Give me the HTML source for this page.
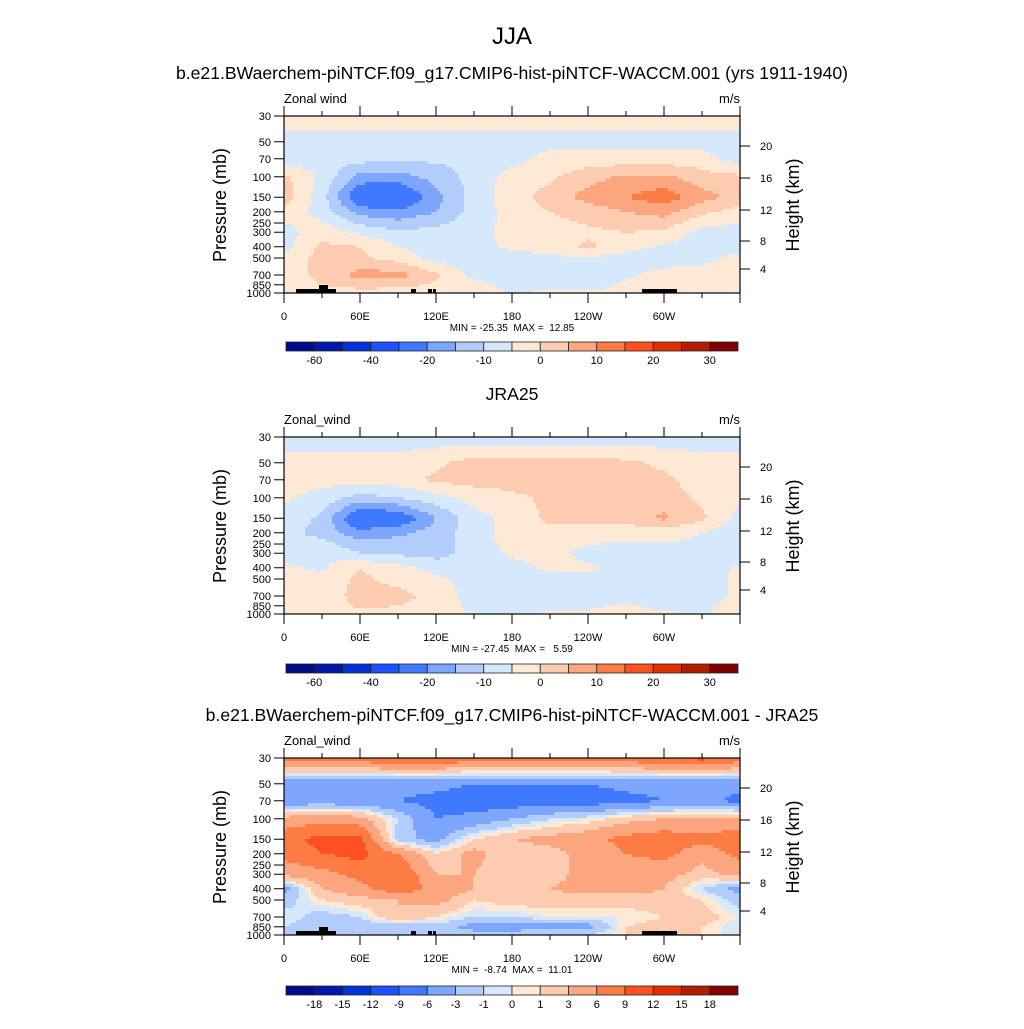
<!DOCTYPE html>
<html><head><meta charset="utf-8"><style>
body{margin:0;background:#fff;}
svg text{font-family:"Liberation Sans",sans-serif;fill:#000;white-space:pre;}
</style></head><body>
<svg id="s" width="1024" height="1024" viewBox="0 0 1024 1024" xmlns="http://www.w3.org/2000/svg">
<text x="512" y="44" font-size="24" text-anchor="middle">JJA</text>
</svg>
<script>
const lons=[0,30,60,90,120,150,180,210,240,270,300,330,360];
const levels=[30,50,70,100,150,200,300,400,500,700,850,1000];
const model=[
[-2,-2,-2,-2,-2,-2,-2,-2,-2,-2,-2,-2,-2],
[-7,-7,-7,-7,-7,-7,-7,-7,-7,-7,-7,-7,-7],
[-8,-8,-8,-9,-9,-9,-7,-3,-3,-3,-3,-3,-8],
[1,-6,-17,-17,-13,-8,-3,-1,3,6,6,2,1],
[3,-8,-26,-27,-17,-8,-2,2,7,10,13,7,3],
[-2,-7,-17,-19,-15,-8,-3,0,2,5,7,1,-2],
[-7,-2,-6,-9,-8,-7,-3,-2,-1,0,-1,-7,-7],
[-7,1,0,-5,-7,-7,-4,-3,1,-3,-6,-8,-7],
[-3,2,1,-2,-7,-8,-7,-6,-6,-7,-8,-7,-3],
[-2,1,7,7,1,-7,-8,-8,-8,-6,-3,-2,-2],
[-2,0,2,2,-1,-3,-7,-8,-8,-4,-3,-4,-2],
[-3,-3,-2,-3,-3,-4,-5,-4,-4,-3,-3,-4,-3]];
const jra=[
[-8,-8,-8,-8,-8,-8,-8,-8,-8,-8,-8,-8,-8],
[-3,-3,-3,-3,-1,2,2,2,2,1,-1,-3,-3],
[-3,-3,-3,-2,1,2,2,2,2,2,1,-2,-3],
[-4,-7,-12,-10,-7,-3,-1,1,2,2,2,-1,-4],
[-7,-11,-27,-25,-15,-7,-3,1,2,2,6,1,-7],
[-8,-12,-18,-16,-13,-7,-3,-1,-2,-3,-3,-5,-8],
[-8,-5,-10,-11,-12,-8,-4,-3,-7,-8,-7,-7,-8],
[-4,-6,0,-3,-7,-8,-7,-4,-4,-7,-8,-8,-4],
[-4,-3,1,-2,-4,-7,-8,-7,-7,-8,-8,-7,-4],
[-4,-3,2,2,-2,-7,-8,-8,-8,-8,-8,-7,-4],
[-3,-4,1,0,-3,-6,-8,-7,-6,-4,-7,-6,-3],
[-2,-4,-2,-3,-4,-5,-6,-4,-4,-3,-4,-6,-2]];
const diff=[
[8,8,8,9,9,8,8,8,8,8,9,10,8],
[-5,-5,-5,-5,-5,-6,-6,-6,-6,-5,-5,-5,-5],
[-5,-5,-5,-6,-7,-8,-8,-8,-8,-7,-6,-5,-7],
[4,5,4,-1,-6,-5,-3,-1,0,2,3,3,4],
[8,10,10,-2,-4,1,3,4,5,7,8,7,8],
[7,9,10,6,1,4,1,2,4,6,7,4,7],
[4,5,7,9,3,3,1,2,4,4,4,2,4],
[-4,3,5,8,5,3,2,3,4,4,3,-1,-4],
[-2,1,2,3,4,1,2,2,2,2,2,1,-2],
[0,-2,-1,3,1,-1,-1,0,0,0,1,2,0],
[-1,-2,-2,-3,-2,-4,-4,-4,-4,1,2,1,-1],
[-1,-1,-2,-2,-1,-2,-2,-1,-1,1,2,1,-1]];
const cnLevels=[-70,-60,-50,-40,-30,-20,-15,-10,-5,0,5,10,15,20,25,30];
const cnLabels=["-60","-40","-20","-10","0","10","20","30"];
const diffLevels=[-21,-18,-15,-12,-9,-6,-3,-1,0,1,3,6,9,12,15,18];
const diffLabels=["-18","-15","-12","-9","-6","-3","-1","0","1","3","6","9","12","15","18"];
const xTickLabels=["0","60E","120E","180","120W","60W"];
const pTickLabels=["30","50","70","100","150","200","250","300","400","500","700","850","1000"];
const hTickLabels=["20","16","12","8","4"];
const colors=["#000a8a","#0018aa","#0032dc","#1a52ff","#4078ff","#7ca6ff","#b2cdfc","#d6e8fc","#fde9d6","#fccbb0","#fca680","#fd7c44","#ff5020","#e03200","#b01e00","#800000"];
const S=document.getElementById('s');const NS="http://www.w3.org/2000/svg";
function mk(tag,a,parent){const e=document.createElementNS(NS,tag);for(const k in a)e.setAttribute(k,a[k]);(parent||S).appendChild(e);return e;}
function txt(x,y,s,size,anchor,name){const t=mk('text',{x:x,y:y,'font-size':size,'text-anchor':anchor||'middle'});t.textContent=s;


return t;}
const L=284,R=740,W=456,H=177;
const xs=lon=>L+lon/360*W;
const ys=(top,p)=>top+H-(Math.log(1000)-Math.log(p))/(Math.log(1000)-Math.log(30))*H;
function binOf(v,lv){let b=0;for(let i=1;i<lv.length;i++)if(v>=lv[i])b=i;return b;}
function sample(grid,lon,p){
 let i=Math.min(lons.length-2,Math.floor(lon/30));let fx=(lon-lons[i])/30;
 const lp=Math.log(p);let j=0;for(let k=0;k<levels.length-1;k++)if(p>=levels[k])j=k;
 const fy=(lp-Math.log(levels[j]))/(Math.log(levels[j+1])-Math.log(levels[j]));
 const a=grid[j][i]*(1-fx)+grid[j][i+1]*fx, b=grid[j+1][i]*(1-fx)+grid[j+1][i+1]*fx;
 return a*(1-fy)+b*fy;}
function panel(top,grid,lv,name,title,sub,minmax,topo,cbLabels,cbTop){
 const g=mk('g',{});
 const step=3;
 for(let py=top;py<top+H;py+=step){
  const yc=Math.min(py+step/2,top+H-0.01);
  const p=Math.exp(Math.log(1000)-(top+H-yc)/H*(Math.log(1000)-Math.log(30)));
  let runStart=L,runBin=-1;
  for(let px=L;px<=R;px+=step){
   let b=-1;if(px<R){const lon=(Math.min(px+step/2,R)-L)/W*360;b=binOf(sample(grid,lon,p),lv);}
   if(b!==runBin){if(runBin>=0){const r=mk('rect',{x:runStart,y:py,width:Math.min(px,R)-runStart+0.5,height:Math.min(step,top+H-py)+0.5,fill:colors[runBin]},g);
     
     }
    runStart=px;runBin=b;}
  }
 }
 if(topo){[[296,289,40,4],[319,285,9,4],[411,289,5,4],[428,289,4,4],[433,289,3,4],[642,289,35,4]].forEach(t=>{const r=mk('rect',{x:t[0],y:top+t[1]-116,width:t[2],height:t[3],fill:'#000'},g);
  
  });}
 const fr=mk('rect',{x:L,y:top,width:W,height:H,fill:'none',stroke:'#000','stroke-width':1.2},g);
 
 for(let k=0;k<=12;k++){const x=xs(k*30);const len=k%2==0?10:5;
  mk('line',{x1:x,x2:x,y1:top+H,y2:top+H+len,stroke:'#000'},g);mk('line',{x1:x,x2:x,y1:top,y2:top-len,stroke:'#000'},g);
  if(k%2==0&&k<12)txt(x,top+H+27,xTickLabels[k/2],11,'middle','x-tick-label');}
 const pv=[30,50,70,100,150,200,250,300,400,500,700,850,1000];
 pv.forEach((p,i)=>{const y=ys(top,p);mk('line',{x1:L-10,x2:L,y1:y,y2:y,stroke:'#000'},g);txt(L-13,y+4,pTickLabels[i],11,'end','y-tick-label');});
 const hy=[146,178,210,241,269];
 hy.forEach((y,i)=>{mk('line',{x1:R,x2:R+10,y1:top+y-116,y2:top+y-116,stroke:'#000'},g);txt(R+20,top+y-116+4,hTickLabels[i],11,'start','height-tick-label');});
 const t1=txt(226,top+89,'Pressure (mb)',18,'middle','y-axis-title');t1.setAttribute('transform','rotate(-90 226 '+(top+89)+')');
 const t2=txt(799,top+89,'Height (km)',18,'middle','right-axis-title');t2.setAttribute('transform','rotate(-90 799 '+(top+89)+')');
 txt(L,top-13,sub,13,'start','variable-label');txt(R,top-13,'m/s',13,'end','units-label');
 txt(512,top-37,title,17.6,'middle','panel-title');
 txt(512,top+H+38,minmax,10,'middle','min-max-label');
 const cw=452/16;
 for(let k=0;k<16;k++){const r=mk('rect',{x:286+k*cw,y:cbTop,width:cw,height:9,fill:colors[k],stroke:'#222','stroke-width':0.8},g);
  }
 const step2=cbLabels.length==8?2:1;
 cbLabels.forEach((s,i)=>txt(286+cw*(1+i*step2),cbTop+22,s,11,'middle','colorbar-label'));
}
panel(116,model,cnLevels,'model-panel','b.e21.BWaerchem-piNTCF.f09_g17.CMIP6-hist-piNTCF-WACCM.001 (yrs 1911-1940)','Zonal wind','MIN = -25.35  MAX =  12.85',true,cnLabels,342);
panel(437,jra,cnLevels,'jra25-panel','JRA25','Zonal_wind','MIN = -27.45  MAX =   5.59',false,cnLabels,664);
panel(758,diff,diffLevels,'difference-panel','b.e21.BWaerchem-piNTCF.f09_g17.CMIP6-hist-piNTCF-WACCM.001 - JRA25','Zonal_wind','MIN =  -8.74  MAX =  11.01',true,diffLabels,986);
</script>
</body></html>
